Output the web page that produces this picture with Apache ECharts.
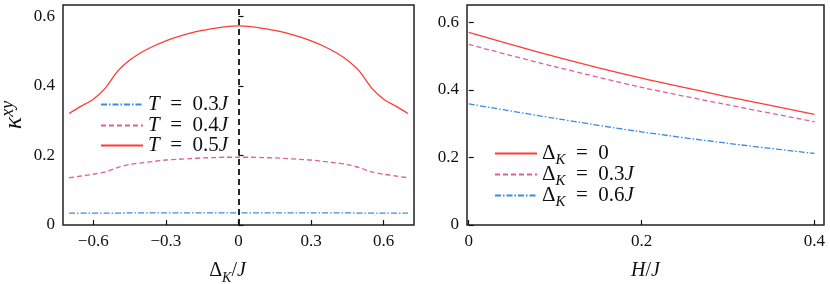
<!DOCTYPE html>
<html><head><meta charset="utf-8">
<script src="https://cdn.jsdelivr.net/npm/echarts@6/dist/echarts.min.js"></script>
<style>html,body{margin:0;padding:0;background:#fff}#c{width:830px;height:284px}</style>
</head><body><div id="c"></div>
<script>
// Left panel: kappa^xy vs Delta_K/J
const deltaK = [-0.70,-0.65,-0.60,-0.55,-0.50,-0.45,-0.40,-0.35,-0.30,-0.25,-0.20,-0.15,-0.10,-0.05,0.00,
                 0.05,0.10,0.15,0.20,0.25,0.30,0.35,0.40,0.45,0.50,0.55,0.60,0.65,0.70];
const kT03 = [0.034,0.034,0.034,0.034,0.034,0.035,0.035,0.035,0.035,0.035,0.035,0.035,0.035,0.035,0.035,
              0.035,0.035,0.035,0.035,0.035,0.035,0.035,0.035,0.035,0.034,0.034,0.034,0.034,0.034];
const kT04 = [0.136,0.141,0.146,0.153,0.165,0.174,0.179,0.183,0.187,0.189,0.191,0.193,0.194,0.195,0.195,
              0.195,0.194,0.193,0.191,0.189,0.187,0.183,0.179,0.174,0.165,0.153,0.146,0.141,0.136];
const kT05 = [0.321,0.342,0.362,0.394,0.442,0.474,0.497,0.515,0.530,0.542,0.552,0.560,0.566,0.571,0.573,
              0.571,0.566,0.560,0.552,0.542,0.530,0.515,0.497,0.474,0.442,0.394,0.362,0.342,0.321];
// Right panel: kappa^xy vs H/J
const fieldH = [0.0,0.1,0.2,0.3,0.4];
const kD0  = [0.571,0.499,0.435,0.380,0.328];
const kD03 = [0.535,0.469,0.408,0.356,0.306];
const kD06 = [0.359,0.316,0.276,0.242,0.212];
// Tick labels
const leftXTicks = [-0.6,-0.3,0,0.3,0.6];
const yTicks = [0,0.2,0.4,0.6];
const rightXTicks = [0,0.2,0.4];

const RED='#ff3a3a', PINK='#e0609a', BLUE='#3a8ae8';
const SERIF='"Liberation Serif","DejaVu Serif",serif';
const fmt = v => v===0 ? '0' : (v<0 ? '\u2212'+Math.abs(v).toFixed(1) : v.toFixed(1));
const pair = (xs, ys) => xs.map((x,i)=>[x, ys[i]]);
const richBase = {
  i:{fontFamily:SERIF,fontStyle:'italic',fontSize:20,color:'#111',lineHeight:24},
  r:{fontFamily:SERIF,fontSize:20,color:'#111',lineHeight:24},
  sub:{fontFamily:SERIF,fontStyle:'italic',fontSize:14,color:'#111',lineHeight:24,verticalAlign:'bottom',padding:[0,0,-2,0]},
  sup:{fontFamily:SERIF,fontStyle:'italic',fontSize:16,color:'#111',lineHeight:24,verticalAlign:'top'}
};
const richLeg = {
  i:Object.assign({},richBase.i,{fontSize:21}),
  r:Object.assign({},richBase.r,{fontSize:21}),
  sub:Object.assign({},richBase.sub,{fontSize:15})
};
function axisCommon(ticks){
  return {
    axisLine:{show:false},
    axisTick:{show:true,inside:true,length:5,customValues:ticks,lineStyle:{color:'#111',width:1.2}},
    axisLabel:{customValues:ticks,formatter:fmt,fontFamily:SERIF,fontSize:17,color:'#111'},
    splitLine:{show:false}
  };
}
const legendNames = {
  'T03':'{i|T}{r|  =  0.3}{i|J}','T04':'{i|T}{r|  =  0.4}{i|J}','T05':'{i|T}{r|  =  0.5}{i|J}',
  'D0':'{r|Δ}{sub|K}{r|  =  0}','D03':'{r|Δ}{sub|K}{r|  =  0.3}{i|J}','D06':'{r|Δ}{sub|K}{r|  =  0.6}{i|J}'
};
function leg(name, left, top){
  return {data:[name], left:left, top:top, itemWidth:42, itemHeight:14, padding:0, itemGap:0,
    itemStyle:{opacity:0},
    formatter:n=>legendNames[n], textStyle:{rich:richLeg}, selectedMode:false};
}
const option = {
  animation:false,
  grid:[
    {left:63,right:416,top:5,bottom:59,show:true,borderColor:'#222',borderWidth:1.5,backgroundColor:'transparent',outerBoundsMode:'none',containLabel:false},
    {left:467,right:6,top:5,bottom:59,show:true,borderColor:'#222',borderWidth:1.5,backgroundColor:'transparent',outerBoundsMode:'none',containLabel:false}
  ],
  xAxis:[
    Object.assign({type:'value',gridIndex:0,min:-0.725,max:0.725,
      name:'{r|Δ}{sub|K}{r|/}{i|J}',nameLocation:'middle',nameGap:34,
      nameTextStyle:{rich:richBase,padding:[0,22,0,0]}}, axisCommon(leftXTicks)),
    Object.assign({type:'value',gridIndex:1,min:-0.002,max:0.411,
      name:'{i|H}{r|/}{i|J}',nameLocation:'middle',nameGap:34,
      nameTextStyle:{rich:richBase}}, axisCommon(rightXTicks))
  ],
  yAxis:[
    Object.assign({type:'value',gridIndex:0,min:0,max:0.633,
      name:'{i|κ}{sup|xy}',nameLocation:'middle',nameGap:34,nameRotate:90,
      nameTextStyle:{rich:Object.assign({},richBase,{i:Object.assign({},richBase.i,{fontSize:26,lineHeight:30}),
        sup:Object.assign({},richBase.sup,{lineHeight:30,fontSize:18})})}}, axisCommon(yTicks)),
    Object.assign({type:'value',gridIndex:1,min:0,max:0.652}, axisCommon(yTicks))
  ],
  legend:[leg('T03',100,94),leg('T04',100,115),leg('T05',100,135),
          leg('D0',494,143),leg('D03',494,164),leg('D06',494,185)],
  series:[
    {name:'T03',type:'line',xAxisIndex:0,yAxisIndex:0,data:pair(deltaK,kT03),symbol:'none',
      lineStyle:{color:BLUE,width:1.3,type:[6,2,1.5,2]},itemStyle:{color:BLUE}},
    {name:'T04',type:'line',xAxisIndex:0,yAxisIndex:0,data:pair(deltaK,kT04),symbol:'none',smooth:0.3,
      lineStyle:{color:PINK,width:1.3,type:[5,3]},itemStyle:{color:PINK}},
    {name:'T05',type:'line',xAxisIndex:0,yAxisIndex:0,data:pair(deltaK,kT05),symbol:'none',smooth:0.3,
      lineStyle:{color:RED,width:1.3},itemStyle:{color:RED},
      markLine:{silent:true,symbol:'none',label:{show:false},
        lineStyle:{color:'#111',type:[6,4],width:1.8},data:[{xAxis:0}]}},
    {name:'D0',type:'line',xAxisIndex:1,yAxisIndex:1,data:pair(fieldH,kD0),symbol:'none',smooth:0.3,
      lineStyle:{color:RED,width:1.3},itemStyle:{color:RED}},
    {name:'D03',type:'line',xAxisIndex:1,yAxisIndex:1,data:pair(fieldH,kD03),symbol:'none',smooth:0.3,
      lineStyle:{color:PINK,width:1.3,type:[5,3]},itemStyle:{color:PINK}},
    {name:'D06',type:'line',xAxisIndex:1,yAxisIndex:1,data:pair(fieldH,kD06),symbol:'none',smooth:0.3,
      lineStyle:{color:BLUE,width:1.3,type:[6,2,1.5,2]},itemStyle:{color:BLUE}}
  ]
};
echarts.init(document.getElementById('c'),null,{renderer:'canvas'}).setOption(option);
</script></body></html>
